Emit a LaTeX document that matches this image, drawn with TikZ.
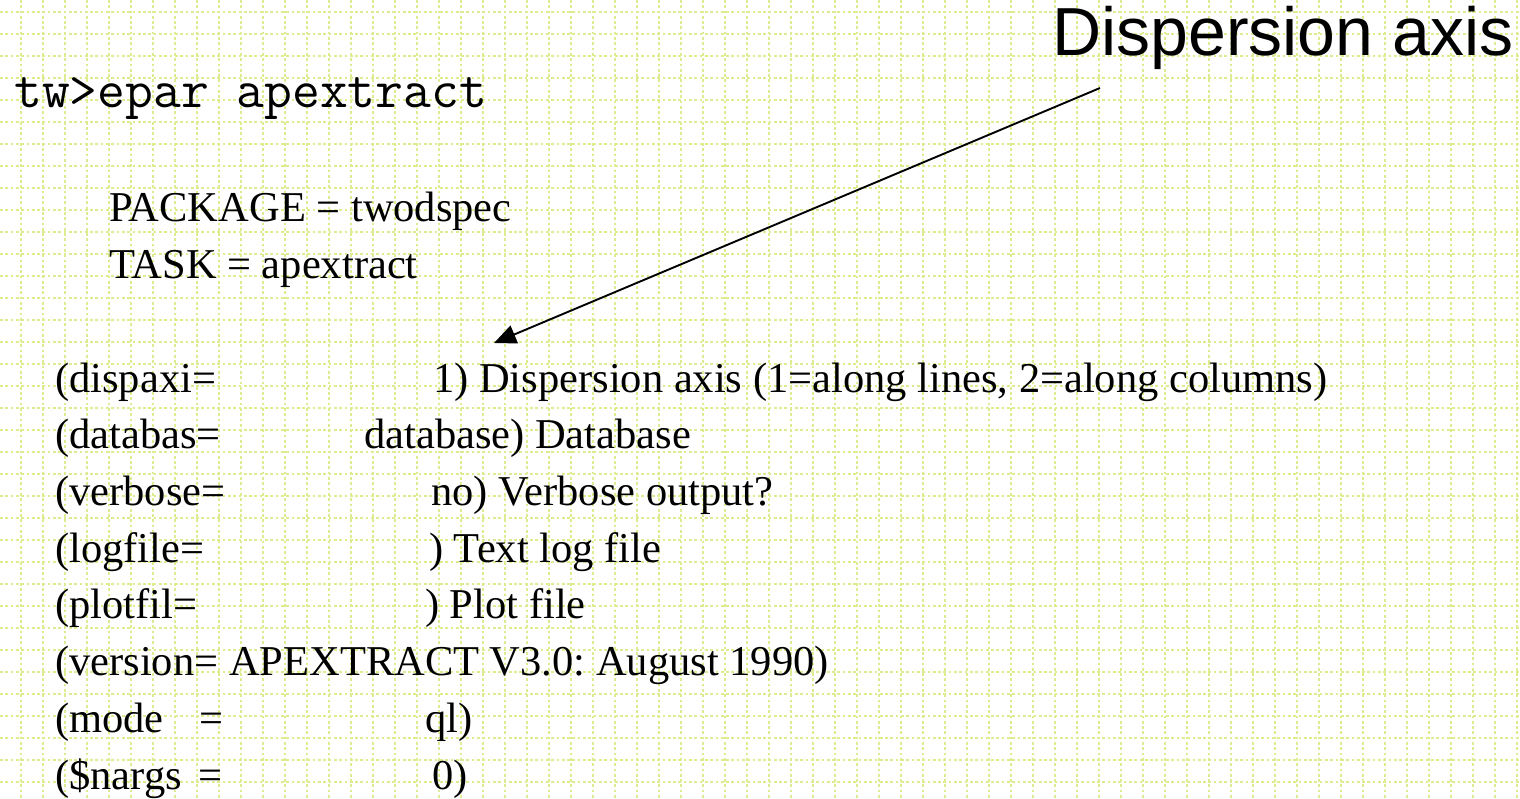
\documentclass[tikz,border=0pt]{standalone}
\usepackage{fontspec}
\setmainfont{Liberation Serif}
\newfontfamily\axisfont{Liberation Sans}
\usetikzlibrary{arrows.meta}
\definecolor{gridgreen}{RGB}{221,235,145}
\frenchspacing

\begin{document}
\begin{tikzpicture}[x=1pt, y=-1pt,
    gridline/.style={gridgreen, line width=2pt, dash pattern=on 2.7pt off 2.6pt},
    parfont/.style={anchor=base west, inner sep=0pt, font=\fontsize{42.5}{50}\selectfont}]

    % Page and white background
    \useasboundingbox (0,0) rectangle (1520,799);
    \fill[white] (0,0) rectangle (1520,799);

    % Dotted grid paper
    \begin{scope}
        \clip (0,0) rectangle (1520,799);
        \foreach \gx in {0,...,69}
            \draw[gridline] ({22*\gx-0.7},0) -- ({22*\gx-0.7},799);
        \foreach \gy in {0,...,36}
            \draw[gridline] (0,{22*\gy+12.3}) -- (1520,{22*\gy+12.3});
    \end{scope}

    % Command prompt
    \node[anchor=base west, inner sep=0pt, font=\fontsize{54}{60}\ttfamily\addfontfeature{FakeBold=1.5}] (prompt) at (14,108) {tw>epar apextract};

    % Callout label
    \node[anchor=base west, inner sep=0pt, font=\fontsize{68}{75}\axisfont] (axislabel) at (1052,56) {Dispersion axis};

    % Package and task
    \node[parfont] (pkg) at (109,222) {PACKAGE = twodspec};
    \node[parfont] (task) at (109,279) {TASK = apextract};

    % Parameter list
    \node[parfont] (dispaxi) at (55,392) {(dispaxi=};
    \node[parfont] (dispaxival) at (433,392) {1) Dispersion axis (1=along lines, 2=along columns)};
    \node[parfont] (databas) at (55,448.5) {(databas=};
    \node[parfont] (databasval) at (364,448.5) {database) Database};
    \node[parfont] (verbose) at (55,505.5) {(verbose=};
    \node[parfont] (verboseval) at (431,505.5) {no) Verbose output?};
    \node[parfont] (logfile) at (55,562) {(logfile=};
    \node[parfont] (logfileval) at (429,562) {) Text log file};
    \node[parfont] (plotfil) at (55,618.5) {(plotfil=};
    \node[parfont] (plotfilval) at (425,618.5) {) Plot file};
    \node[parfont] (version) at (55,675.5) {(version= APEXTRACT V3.0: August 1990)};
    \node[parfont] (mode) at (55,732) {(mode\hspace{36pt}=};
    \node[parfont] (modeval) at (425,732) {ql)};
    \node[parfont] (nargs) at (55,789) {(\$nargs\hspace{17pt}=};
    \node[parfont] (nargsval) at (432,789) {0)};

    % Arrow to the dispersion axis value
    \coordinate (axtail) at (1100,88);
    \coordinate (axtip) at (494,343);
    \draw[-{Triangle[length=22pt,width=19pt]}, line width=1.9pt] (axtail) -- (axtip);
\end{tikzpicture}
\end{document}
